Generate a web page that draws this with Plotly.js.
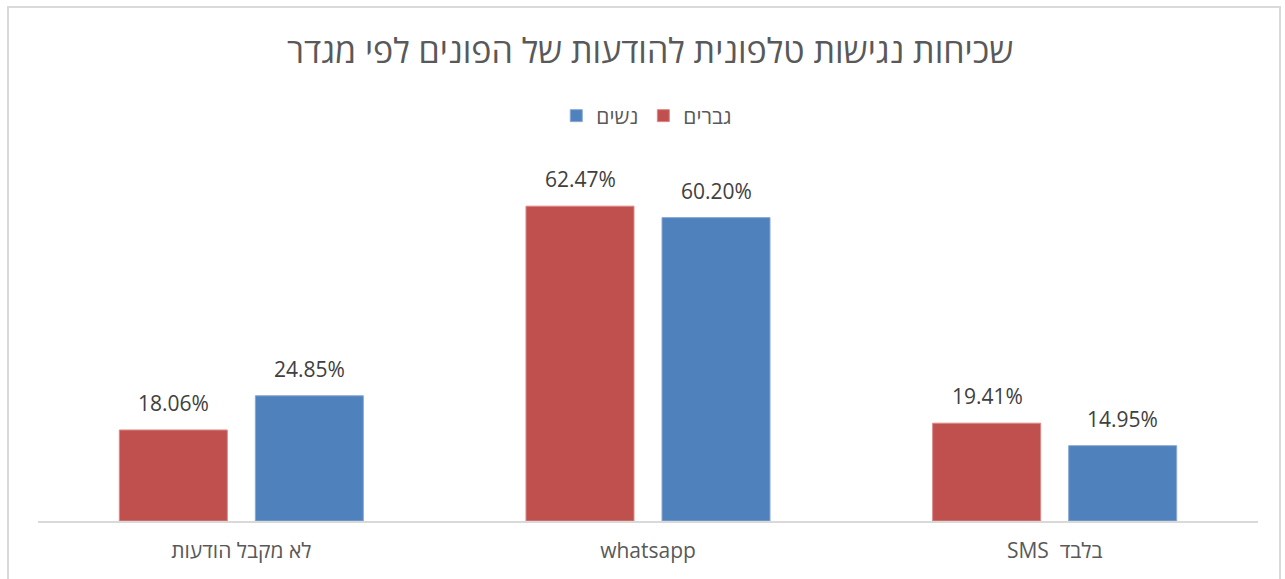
<!DOCTYPE html>
<html>
<head>
<meta charset="utf-8">
<script src="https://cdn.plot.ly/plotly-3.0.1.min.js"></script>
<style>
  html, body { margin: 0; padding: 0; background: #fff; }
  #chart { position: absolute; left: 0; top: 0; width: 1285px; height: 579px; }
  #frame { position: absolute; left: 7px; top: 6px; width: 1274px; height: 600px;
           border: 2px solid #d9d9d9; pointer-events: none; box-sizing: border-box; }
</style>
</head>
<body>
<div id="chart"></div>
<div id="frame"></div>
<script>
const categories = ['לא מקבל הודעות', 'whatsapp', 'SMS  בלבד'];
const seriesNames = ['גברים', 'נשים'];
const menValues = [18.06, 62.47, 19.41];
const womenValues = [24.85, 60.20, 14.95];
const chartTitle = 'שכיחות נגישות טלפונית להודעות של הפונים לפי מגדר';

const fontFamily = '"Open Sans", "Noto Sans", "DejaVu Sans", sans-serif';

function fmt(v) { return v.toFixed(2) + '%'; }

const traces = [
  {
    type: 'bar', name: seriesNames[0], x: categories, y: menValues,
    marker: { color: '#C0504D', line: { color: '#d98a88', width: 1 } },
    hoverinfo: 'x+y'
  },
  {
    type: 'bar', name: seriesNames[1], x: categories, y: womenValues,
    marker: { color: '#4F81BD', line: { color: '#8aa9d4', width: 1 } },
    hoverinfo: 'x+y'
  }
];

// data labels: built from the series arrays, shifted to each bar of the group
const labelShift = [-67.5, 68];
const annotations = [];
[menValues, womenValues].forEach((vals, s) => {
  vals.forEach((v, i) => {
    annotations.push({
      x: categories[i], y: v, xref: 'x', yref: 'y',
      text: fmt(v), showarrow: false, xanchor: 'center', yanchor: 'bottom',
      xshift: labelShift[s], yshift: 11,
      font: { size: 21, color: '#404040', family: fontFamily }
    });
  });
});

const layout = {
  width: 1285, height: 579,
  margin: { l: 38, r: 27, t: 140, b: 58 },
  paper_bgcolor: '#ffffff', plot_bgcolor: '#ffffff',
  font: { family: fontFamily, color: '#595959' },
  title: { text: chartTitle, x: 0.506, xanchor: 'center', y: 0.912, yanchor: 'middle',
           font: { size: 34, color: '#595959', family: fontFamily } },
  showlegend: true,
  legend: { orientation: 'h', x: 0.499, xanchor: 'center', y: 1.063, yanchor: 'middle',
            traceorder: 'reversed', itemwidth: 30, font: { size: 21, color: '#595959' } },
  barmode: 'group', bargap: 0.331, bargroupgap: 0.206,
  xaxis: { showline: true, linecolor: '#d9d9d9', linewidth: 2, ticks: '', showgrid: false,
           tickfont: { size: 21, color: '#595959' }, ticklabelstandoff: 10 },
  yaxis: { range: [0, 75.6], visible: false, showgrid: false, zeroline: false },
  annotations: annotations
};

Plotly.newPlot('chart', traces, layout, { displayModeBar: false, staticPlot: true });
</script>
</body>
</html>
